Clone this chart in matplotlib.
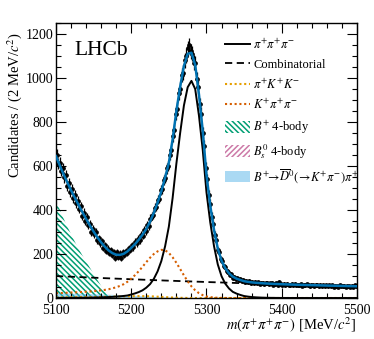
import numpy as np
import matplotlib
matplotlib.use('Agg')
import matplotlib.pyplot as plt
from matplotlib.lines import Line2D
from matplotlib.patches import Patch
from matplotlib.ticker import MultipleLocator

plt.rcParams['font.family'] = ['Liberation Serif', 'DejaVu Serif']
plt.rcParams['mathtext.fontset'] = 'stix'
plt.rcParams['hatch.linewidth'] = 1.1

# ---------------- data (2 MeV bins, centres 5101 ... 5499) ----------------
bin_lo = 5100
bin_hi = 5500
bin_width = 2
counts = [
    652, 611, 615, 579, 590,
    548, 560, 511, 522, 481,
    497, 455, 470, 432, 441,
    405, 418, 372, 388, 352,
    367, 330, 338, 301, 315,
    289, 301, 264, 272, 249,
    258, 229, 241, 214, 225,
    205, 218, 196, 208, 184,
    210, 188, 202, 181, 207,
    196, 214, 205, 226, 219,
    240, 231, 255, 248, 270,
    263, 288, 284, 310, 305,
    331, 329, 361, 372, 379,
    410, 414, 447, 452, 492,
    496, 538, 545, 590, 600,
    652, 671, 735, 765, 838,
    861, 930, 952, 1012, 1025,
    1080, 1101, 1135, 1150, 1122,
    1110, 1070, 1068, 995, 960,
    880, 838, 751, 690, 592,
    540, 468, 428, 370, 338,
    288, 265, 219, 208, 176,
    168, 144, 139, 122, 120,
    104, 108, 93, 97, 86,
    90, 81, 85, 77, 80,
    73, 79, 71, 76, 69,
    74, 67, 72, 66, 71,
    65, 70, 68, 63, 69,
    67, 62, 66, 68, 61,
    63, 66, 60, 74, 62,
    60, 64, 59, 63, 61,
    58, 63, 60, 65, 57,
    61, 58, 62, 56, 60,
    57, 62, 59, 55, 61,
    58, 55, 60, 57, 54,
    59, 55, 58, 54, 57,
    53, 58, 55, 57, 52,
    56, 54, 52, 57, 55,
    53, 56, 51, 55, 54,
    52, 55, 51, 57, 53,
]

# ---------------- fit components (5 MeV grid, 5100 ... 5500) ----------------
grid_step = 5
total = [
    645, 603, 563, 526, 490, 456, 423, 391, 360, 330,
    302, 276, 253, 233, 216, 204, 197, 196, 201, 212,
    228, 245, 265, 288, 314, 347, 387, 433, 485, 547,
    615, 721, 850, 960, 1055, 1110, 1115, 1060, 925, 760,
    560, 420, 310, 225, 170, 135, 112, 97, 88, 82,
    76.5, 73.5, 71.2, 69.5, 68.1, 66.9, 65.9, 65.0, 64.2, 63.5,
    62.8, 62.1, 61.5, 61.0, 60.4, 59.9, 59.4, 58.9, 58.5, 58.0,
    57.6, 57.1, 56.7, 56.2, 55.8, 55.4, 55.0, 54.6, 54.2, 53.8,
    53.4,
]
signal = [
    0.5, 0.6, 0.7, 0.8, 0.9, 1.0, 1.2, 1.4, 1.6, 1.9,
    2.2, 2.6, 3.0, 3.6, 4.3, 5.2, 6.3, 7.7, 9.4, 11.5,
    16, 21, 27, 35, 47, 63, 87, 121, 168, 235,
    325, 455, 611, 750, 875, 958, 987, 950, 829, 674,
    480, 344, 236, 153, 99, 65, 43, 28, 20, 14,
    9, 6.5, 4.5, 3.2, 2.3, 1.6, 1.1, 0.8, 0.6, 0.4,
    0.3, 0.25, 0.2, 0.15, 0.12, 0.1, 0.08, 0.06, 0.05, 0.04,
    0.03, 0.03, 0.02, 0.02, 0.02, 0.01, 0.01, 0.01, 0.01, 0.01,
    0.01,
]
combinatorial = [
    100, 99.2, 98.4, 97.6, 96.9, 96.1, 95.3, 94.6, 93.9, 93.1,
    92.4, 91.7, 90.9, 90.2, 89.5, 88.8, 88.1, 87.4, 86.7, 86.0,
    85.3, 84.6, 84.0, 83.3, 82.7, 82.0, 81.4, 80.7, 80.1, 79.4,
    78.8, 78.2, 77.6, 77.0, 76.4, 75.8, 75.2, 74.6, 74.0, 73.4,
    72.8, 72.2, 71.7, 71.1, 70.5, 70.0, 69.4, 68.9, 68.3, 67.8,
    67.2, 66.7, 66.2, 65.6, 65.1, 64.6, 64.1, 63.6, 63.1, 62.6,
    62.1, 61.6, 61.1, 60.6, 60.2, 59.7, 59.2, 58.8, 58.3, 57.8,
    57.4, 56.9, 56.5, 56.0, 55.6, 55.2, 54.7, 54.3, 53.9, 53.4,
    53.0,
]
pikk = [
    3, 3, 3.2, 3.4, 3.6, 3.8, 4, 4.2, 4.4, 4.6,
    4.8, 5, 5.3, 5.6, 6, 6.4, 6.8, 7.2, 7.6, 8,
    8.3, 8.5, 8.6, 8.5, 8.2, 7.7, 7, 6, 5, 4,
    3, 2.2, 1.5, 1, 0.6, 0.3, 0.2, 0.1, 0, 0,
    0, 0, 0, 0, 0, 0, 0, 0, 0, 0,
    0, 0, 0, 0, 0, 0, 0, 0, 0, 0,
    0, 0, 0, 0, 0, 0, 0, 0, 0, 0,
    0, 0, 0, 0, 0, 0, 0, 0, 0, 0,
    0,
]
kpipi = [
    22, 22.5, 23, 24, 25, 25.5, 26.5, 27.5, 28.5, 29.5,
    31, 33, 35, 37, 40, 44, 49, 55, 63, 74,
    88, 104, 122, 142, 163, 183, 200, 212, 219, 217,
    205, 185, 160, 132, 103, 76, 53, 35, 22, 13,
    7, 4, 2, 1, 0.5, 0.2, 0, 0, 0, 0,
    0, 0, 0, 0, 0, 0, 0, 0, 0, 0,
    0, 0, 0, 0, 0, 0, 0, 0, 0, 0,
    0, 0, 0, 0, 0, 0, 0, 0, 0, 0,
    0,
]
bu_4body = [
    445, 402, 362, 325, 290, 256, 224, 194, 166, 138,
    110, 82, 55, 30, 10, 0, 0, 0, 0, 0,
    0, 0, 0, 0, 0, 0, 0, 0, 0, 0,
    0, 0, 0, 0, 0, 0, 0, 0, 0, 0,
    0, 0, 0, 0, 0, 0, 0, 0, 0, 0,
    0, 0, 0, 0, 0, 0, 0, 0, 0, 0,
    0, 0, 0, 0, 0, 0, 0, 0, 0, 0,
    0, 0, 0, 0, 0, 0, 0, 0, 0, 0,
    0,
]
bs_4body = [
    6, 5, 4, 3, 2.2, 1.5, 1, 0.6, 0.3, 0.1,
    0, 0, 0, 0, 0, 0, 0, 0, 0, 0,
    0, 0, 0, 0, 0, 0, 0, 0, 0, 0,
    0, 0, 0, 0, 0, 0, 0, 0, 0, 0,
    0, 0, 0, 0, 0, 0, 0, 0, 0, 0,
    0, 0, 0, 0, 0, 0, 0, 0, 0, 0,
    0, 0, 0, 0, 0, 0, 0, 0, 0, 0,
    0, 0, 0, 0, 0, 0, 0, 0, 0, 0,
    0,
]
dpi_comp = [
    22, 21.5, 21, 20.5, 20, 19.5, 19, 18.5, 18, 17.5,
    17, 16.5, 16, 15.5, 15, 14.3, 13.6, 12.9, 12.2, 11.5,
    10.7, 9.9, 9, 8, 7, 6, 5, 4, 3, 2,
    1.3, 0.8, 0.4, 0.2, 0.1, 0, 0, 0, 0, 0,
    0, 0, 0, 0, 0, 0, 0, 0, 0, 0,
    0, 0, 0, 0, 0, 0, 0, 0, 0, 0,
    0, 0, 0, 0, 0, 0, 0, 0, 0, 0,
    0, 0, 0, 0, 0, 0, 0, 0, 0, 0,
    0,
]

legend_labels = [
    r'$\pi^{+}\pi^{+}\pi^{-}$',
    'Combinatorial',
    r'$\pi^{+}K^{+}K^{-}$',
    r'$K^{+}\pi^{+}\pi^{-}$',
    r'$B^{+}$ 4-body',
    r'$B_{s}^{0}$ 4-body',
    r'$B^{+}\!\!\rightarrow\!\overline{D}^{0}(\!\rightarrow\! K^{+}\pi^{-})\pi^{+}$',
]

C_TOTAL = '#0072B2'
C_TEAL = '#009E73'
C_PINK = '#CC79A7'
C_YEL = '#E69F00'
C_ORA = '#D55E00'
C_SKY = '#56B4E9'
HATCH_B = '\\\\\\\\\\\\'
HATCH_S = '//////'

m = np.arange(bin_lo, bin_hi + 0.1, grid_step)
xc = np.arange(bin_lo + bin_width / 2, bin_hi, bin_width)
cnt = np.array(counts, dtype=float)

fig = plt.figure(figsize=(3.74, 3.39), dpi=100)
ax = fig.add_axes([0.1497, 0.1209, 0.8048, 0.8112])

ax.fill_between(m, 0, bs_4body, facecolor='none', edgecolor=C_PINK,
                hatch=HATCH_S, linewidth=0, zorder=1)
ax.fill_between(m, 0, bu_4body, facecolor='none', edgecolor=C_TEAL,
                hatch=HATCH_B, linewidth=0, zorder=1.2)
ax.fill_between(m, 0, dpi_comp, facecolor=C_SKY, alpha=0.5, linewidth=0,
                zorder=1.4)
ax.plot(m, combinatorial, color='black', lw=1.3, ls=(0, (4, 2.5)), zorder=2)
ax.plot(m, pikk, color=C_YEL, lw=1.5, ls=(0, (1, 1.3)), zorder=2)
ax.plot(m, kpipi, color=C_ORA, lw=1.5, ls=(0, (1, 1.3)), zorder=2.1)
ax.plot(m, signal, color='black', lw=1.4, zorder=2.2)
ax.errorbar(xc, cnt, yerr=np.sqrt(cnt), xerr=bin_width / 2, fmt='o',
            ms=2.4, color='black', elinewidth=0.9, capsize=0, zorder=3)
ax.plot(m, total, color=C_TOTAL, lw=1.8, zorder=4)

ax.set_xlim(bin_lo, bin_hi)
ax.set_ylim(0, 1250)
ax.xaxis.set_major_locator(MultipleLocator(100))
ax.xaxis.set_minor_locator(MultipleLocator(20))
ax.yaxis.set_major_locator(MultipleLocator(200))
ax.yaxis.set_minor_locator(MultipleLocator(50))
ax.tick_params(which='both', direction='in', top=True, right=True,
               labelsize=10, width=0.8)
ax.tick_params(which='major', length=7)
ax.tick_params(axis='y', which='major', pad=2)
ax.tick_params(axis='x', which='major', pad=4)
ax.tick_params(which='minor', length=3.5)
for s in ax.spines.values():
    s.set_linewidth(1.0)

ax.text(0.06, 0.935, 'LHCb', transform=ax.transAxes, fontsize=15.5,
        va='top', ha='left')

fig.text(15 / 374, 1 - 32 / 339, r'Candidates / (2 MeV/$c^{2}$)',
         rotation=90, va='top', ha='center', fontsize=10.5)
fig.text(356 / 374, 1 - 325 / 339,
         r'$m(\pi^{+}\pi^{+}\pi^{-})$ [MeV/$c^{2}$]',
         ha='right', va='center', fontsize=10.5)

handles = [
    Line2D([], [], color='black', lw=1.4),
    Line2D([], [], color='black', lw=1.3, ls=(0, (4, 2.5))),
    Line2D([], [], color=C_YEL, lw=1.5, ls=(0, (1, 1.3))),
    Line2D([], [], color=C_ORA, lw=1.5, ls=(0, (1, 1.3))),
    Patch(facecolor='none', edgecolor=C_TEAL, hatch=HATCH_B, lw=0),
    Patch(facecolor='none', edgecolor=C_PINK, hatch=HATCH_S, lw=0),
    Patch(facecolor=C_SKY, alpha=0.5, lw=0),
]
ax.legend(handles, legend_labels, loc='upper left',
          bbox_to_anchor=(0.56, 0.948), frameon=False, fontsize=9,
          handlelength=2.0, handleheight=1.05, handletextpad=0.3,
          labelspacing=0.5, borderpad=0, borderaxespad=0)

fig.savefig('out.png', dpi=100)
